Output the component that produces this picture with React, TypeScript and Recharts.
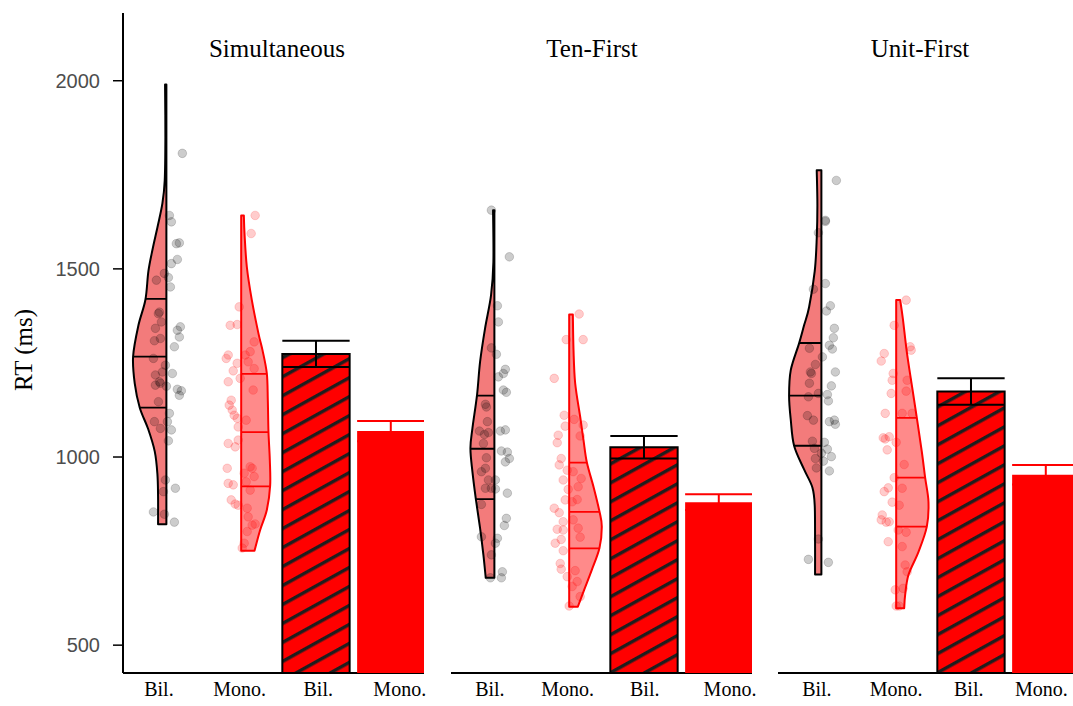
import React from 'react';
import { ComposedChart, Scatter, XAxis, YAxis } from 'recharts';

const FACETS = ['Simultaneous', 'Ten-First', 'Unit-First'];
const TICK_LABELS = ['Bil.', 'Mono.', 'Bil.', 'Mono.'];
const Y_TICKS = [500, 1000, 1500, 2000];
const Y_MIN = 426;
const Y_MAX = 2180;

// mean RT and standard error, [Bil., Mono.] per condition
const BAR_MEANS = [[1274, 1069], [1026, 880], [1174, 953]];
const BAR_SE = [[35, 27], [30, 21], [35, 26]];

// 25th / 50th / 75th percentiles, [Bil., Mono.]
const QUARTILES = [
  [[1131, 1267, 1420], [922, 1066, 1221]],
  [[888, 1022, 1163], [757, 854, 985]],
  [[1030, 1163, 1303], [815, 945, 1104]],
];

// density outlines: [rt, relative density], bottom to top
const DENS_SIM_BIL = [
  [821, 0.25], [895, 0.25], [955, 0.27], [1015, 0.35], [1075, 0.55], [1131, 0.8], [1195, 0.95],
  [1267, 1.0], [1350, 0.84], [1418, 0.63], [1494, 0.54], [1554, 0.41], [1614, 0.26], [1674, 0.12],
  [1735, 0.05], [1850, 0.03], [1990, 0.04],
];
const DENS_SIM_MONO = [
  [751, 0.4], [806, 0.57], [859, 0.77], [924, 0.87], [992, 0.86], [1067, 0.82], [1151, 0.8],
  [1222, 0.77], [1284, 0.64], [1328, 0.52], [1417, 0.32], [1505, 0.17], [1594, 0.1], [1642, 0.08],
];
const DENS_TEN_BIL = [
  [679, 0.26], [740, 0.33], [811, 0.43], [890, 0.56], [961, 0.66], [1023, 0.72], [1076, 0.66],
  [1166, 0.52], [1253, 0.43], [1342, 0.28], [1430, 0.1], [1518, 0.03], [1656, 0.04],
];
const DENS_TEN_MONO = [
  [602, 0.26], [647, 0.45], [700, 0.68], [758, 0.91], [815, 0.98], [855, 0.91], [921, 0.73],
  [986, 0.53], [1045, 0.43], [1107, 0.33], [1196, 0.18], [1284, 0.13], [1379, 0.11],
];
const DENS_UNIT_BIL = [
  [688, 0.19], [776, 0.19], [871, 0.2], [919, 0.27], [967, 0.52], [1030, 0.82], [1099, 0.92],
  [1162, 0.97], [1231, 0.92], [1302, 0.67], [1350, 0.52], [1398, 0.37], [1494, 0.2], [1580, 0.14],
  [1669, 0.12], [1762, 0.14],
];
const DENS_UNIT_MONO = [
  [598, 0.24], [634, 0.27], [687, 0.37], [748, 0.67], [815, 0.92], [881, 0.97], [945, 0.87],
  [1014, 0.77], [1104, 0.62], [1191, 0.47], [1279, 0.32], [1368, 0.2], [1417, 0.12],
];

// participant means: [rt, horizontal jitter]
const PTS_SIM_BIL = [
  [1807, 16], [1642, 3], [1625, 5], [1567, 10], [1569, 13], [1525, 11], [1514, 5], [1488, -2],
  [1470, -10], [1477, 2], [1452, 4], [1381, -8], [1385, -7], [1359, -5], [1342, -11], [1346, 14],
  [1337, 11], [1319, 13], [1315, -6], [1309, -12], [1293, 8], [1262, -13], [1244, -1], [1226, -4],
  [1222, 6], [1218, -11], [1200, -7], [1196, -6], [1191, -11], [1188, 0], [1180, 11], [1176, 15],
  [1164, 13], [1147, -8], [1116, 3], [1094, -12], [1094, 1], [1076, -6], [1072, 5], [1043, 2],
  [939, -1], [917, 9], [908, -3], [854, -13], [848, -2], [827, 8],
];
const PTS_SIM_MONO = [
  [1642, 14], [1594, 10], [1399, -2], [1350, -11], [1352, -4], [1306, 13], [1271, -13], [1262, -15],
  [1249, -4], [1271, 4], [1253, 7], [1280, 9], [1235, 13], [1229, -8], [1209, -1], [1200, -13],
  [1178, 12], [1151, -10], [1138, -12], [1125, -9], [1111, -7], [1103, -4], [1098, 5], [1080, -3],
  [1036, -13], [1027, -6], [1045, -3], [974, 9], [970, 11], [957, 3], [948, 13], [970, -14],
  [930, -13], [926, -8], [934, 5], [912, 9], [886, -10], [875, -6], [872, -3], [864, 6],
  [841, 7], [819, 11], [822, 14], [802, 6], [771, 3], [758, 1],
];
const PTS_TEN_BIL = [
  [1656, -3], [1532, 15], [1402, 3], [1359, 4], [1290, -3], [1273, 2], [1233, 11], [1222, 9],
  [1213, 4], [1178, 9], [1172, 12], [1140, -9], [1133, -8], [1094, -7], [1069, -15], [1065, -6],
  [1060, -10], [1069, 6], [1072, 11], [1036, -11], [1016, 7], [1013, 13], [996, 15], [987, 11],
  [998, -8], [961, -13], [970, -9], [939, -6], [939, 1], [917, -3], [917, -9], [915, 1],
  [904, 13], [874, -13], [837, 12], [818, 10], [788, -13], [784, 3], [771, 1], [740, -3],
  [695, 8], [679, 7], [679, -4],
];
const PTS_TEN_MONO = [
  [1380, 10], [1312, -3], [1312, 14], [1209, -15], [1111, -5], [1100, 5], [1082, -4], [1085, 14],
  [1058, -11], [1038, -12], [1056, 11], [996, -8], [979, -10], [965, -2], [961, 4], [939, -6],
  [943, 12], [921, 9], [914, -1], [886, -4], [881, 3], [887, 8], [864, -15], [852, -10],
  [833, 4], [828, -6], [811, 9], [787, 11], [808, -12], [806, -6], [771, -14], [781, -8],
  [751, -6], [717, -9], [702, -8], [682, -2], [698, 6], [669, 8], [629, 11], [604, 0], [656, 3],
];
const PTS_UNIT_BIL = [
  [1735, 15], [1629, 4], [1626, 4], [1596, -3], [1461, 4], [1446, -8], [1402, 9], [1388, 5],
  [1342, 13], [1317, 12], [1297, 8], [1287, 11], [1289, -12], [1266, 1], [1246, -6], [1226, -11],
  [1222, -10], [1226, 14], [1196, -12], [1189, 10], [1169, -3], [1166, 6], [1149, 7], [1160, -13],
  [1110, -14], [1098, -8], [1094, 8], [1098, 13], [1087, 14], [1042, -9], [1039, 3], [1023, -7],
  [1021, 6], [1010, 0], [996, -6], [1001, 10], [989, 2], [971, -5], [963, 8], [782, -3],
  [728, -13], [720, 7],
];
const PTS_UNIT_MONO = [
  [1417, 10], [1350, -2], [1293, 14], [1284, 15], [1275, -12], [1255, -15], [1222, -3], [1204, -4],
  [1204, 11], [1175, 10], [1169, -5], [1116, -11], [1116, 6], [1116, 16], [1051, -13], [1048, -11],
  [1054, -7], [1039, 0], [1019, -9], [980, 8], [945, -2], [918, -8], [908, -12], [917, 6],
  [880, -4], [872, 3], [846, -14], [833, -15], [827, -10], [828, -7], [806, 2], [800, 10],
  [775, -8], [762, 6], [713, 9], [695, 11], [647, -1], [651, 7], [604, 0], [604, 3],
];

const DENSITY = [
  [DENS_SIM_BIL, DENS_SIM_MONO],
  [DENS_TEN_BIL, DENS_TEN_MONO],
  [DENS_UNIT_BIL, DENS_UNIT_MONO],
];
const POINTS = [
  [PTS_SIM_BIL, PTS_SIM_MONO],
  [PTS_TEN_BIL, PTS_TEN_MONO],
  [PTS_UNIT_BIL, PTS_UNIT_MONO],
];

// tick label positions along each panel's x scale
const TICK_AT = [
  [0.9, 1.98, 3.03, 4.12],
  [0.94, 1.98, 3.01, 4.15],
  [0.94, 2.0, 2.97, 3.94],
];

// layout
const X_DOMAIN = [0.42, 4.444];
const PANEL_LEFT = [123, 451, 778];
const PANEL_W = 301;
const Y_AXIS_W = 123;
const VIOLIN_HALF = 0.445;
const BAR_W = 0.9;
const JITTER_STEP = 1 / 75;

const GROUP_STYLE = [
  { stroke: '#000000', violin: '#f37b7b', dot: '#000000', side: -1 },
  { stroke: '#ff0000', violin: '#ff8a8a', dot: '#ff0000', side: 1 },
];

const serif = '"Liberation Serif", "Times New Roman", serif';
const sans = '"Liberation Sans", Arial, sans-serif';

type P = { x: number; y: number };

function smoothPath(pts: P[]) {
  let d = `M${pts[0].x},${pts[0].y}`;
  for (let i = 0; i < pts.length - 1; i++) {
    const p0 = pts[i - 1] || pts[i];
    const p1 = pts[i];
    const p2 = pts[i + 1];
    const p3 = pts[i + 2] || p2;
    const c1x = p1.x + (p2.x - p0.x) / 6;
    const c1y = p1.y + (p2.y - p0.y) / 6;
    const c2x = p2.x - (p3.x - p1.x) / 6;
    const c2y = p2.y - (p3.y - p1.y) / 6;
    d += ` C${c1x},${c1y} ${c2x},${c2y} ${p2.x},${p2.y}`;
  }
  return d;
}

function densAt(profile: number[][], rt: number) {
  for (let i = 0; i < profile.length - 1; i++) {
    const [r0, d0] = profile[i];
    const [r1, d1] = profile[i + 1];
    if (rt >= r0 && rt <= r1) return d0 + ((d1 - d0) * (rt - r0)) / (r1 - r0);
  }
  return 0;
}

// outer edge bottom->top, then the flat side (top, bottom)
function violinData(profile: number[][], pos: number, side: number) {
  const outer = profile.map(([rt, d]) => ({ x: pos + side * d * VIOLIN_HALF, y: rt }));
  return [
    ...outer,
    { x: pos, y: profile[profile.length - 1][0] },
    { x: pos, y: profile[0][0] },
  ];
}

function quartileData(profile: number[][], qs: number[], pos: number, side: number) {
  const out: P[] = [];
  qs.forEach((q) => {
    out.push({ x: pos, y: q });
    out.push({ x: pos + side * densAt(profile, q) * VIOLIN_HALF, y: q });
  });
  return out;
}

function barData(mean: number, pos: number) {
  return [
    { x: pos - BAR_W / 2, y: Y_MIN },
    { x: pos - BAR_W / 2, y: mean },
    { x: pos + BAR_W / 2, y: mean },
    { x: pos + BAR_W / 2, y: Y_MIN },
  ];
}

// upper cap, stem, lower cap as segment pairs
function errorData(mean: number, se: number, pos: number) {
  const hi = mean + se;
  const lo = mean - se;
  const l = pos - BAR_W / 2;
  const r = pos + BAR_W / 2;
  return [
    { x: l, y: hi }, { x: r, y: hi },
    { x: pos, y: lo }, { x: pos, y: hi },
    { x: l, y: lo }, { x: r, y: lo },
  ];
}

const noShape = () => <g />;

const violinLine = (fill: string, stroke: string) => (props: any) => {
  const pts: P[] = props.points;
  const outer = pts.slice(0, -2);
  const [top, bottom] = pts.slice(-2);
  const d = `${smoothPath(outer)} L${top.x},${top.y} L${bottom.x},${bottom.y} Z`;
  return <path d={d} fill={fill} stroke={stroke} strokeWidth={2} strokeLinejoin="round" />;
};

const segmentLine = (stroke: string, width: number) => (props: any) => {
  const pts: P[] = props.points;
  let d = '';
  for (let i = 0; i + 1 < pts.length; i += 2) {
    d += `M${pts[i].x},${pts[i].y} L${pts[i + 1].x},${pts[i + 1].y} `;
  }
  return <path d={d} fill="none" stroke={stroke} strokeWidth={width} />;
};

const polygonLine = (fill: string, stroke: string, strokeWidth: number) => (props: any) => {
  const pts: P[] = props.points;
  const d = pts.map((p, i) => `${i ? 'L' : 'M'}${p.x},${p.y}`).join(' ') + ' Z';
  return <path d={d} fill={fill} stroke={stroke} strokeWidth={strokeWidth} />;
};

const dotShape = (color: string) => (props: any) => (
  <circle
    cx={props.cx}
    cy={props.cy}
    r={4.3}
    fill={color}
    fillOpacity={0.2}
    stroke={color}
    strokeOpacity={0.16}
    strokeWidth={1}
  />
);

function RtLabel(props: any) {
  const vb = props.viewBox;
  const x = vb.x + 23;
  const y = vb.y + vb.height / 2 + 7;
  return (
    <text
      x={x}
      y={y}
      transform={`rotate(-90, ${x}, ${y})`}
      textAnchor="middle"
      dominantBaseline="central"
      fontFamily={serif}
      fontSize={25}
      fill="#000"
    >
      RT (ms)
    </text>
  );
}

function Facet({ f }: { f: number }) {
  const first = f === 0;
  const chartLeft = first ? 0 : PANEL_LEFT[f];
  const chartW = (first ? Y_AXIS_W : 0) + PANEL_W + 20;

  return (
    <div style={{ position: 'absolute', left: chartLeft, top: 0 }}>
      <ComposedChart width={chartW} height={706} margin={{ top: 13, right: 20, bottom: 0, left: 0 }}>
        <XAxis
          type="number"
          dataKey="x"
          domain={X_DOMAIN}
          allowDataOverflow
          ticks={TICK_AT[f]}
          interval={0}
          tickFormatter={(_v: number, i: number) => TICK_LABELS[i]}
          tickLine={false}
          tickMargin={3}
          height={33}
          axisLine={{ stroke: '#000', strokeWidth: 2 }}
          tick={{ fill: '#000', fontSize: 20, fontFamily: serif }}
        />
        <YAxis
          type="number"
          domain={[Y_MIN, Y_MAX]}
          allowDataOverflow
          ticks={Y_TICKS}
          hide={!first}
          width={Y_AXIS_W}
          tickSize={10}
          tickMargin={13}
          axisLine={{ stroke: '#000', strokeWidth: 2 }}
          tickLine={{ stroke: '#000', strokeWidth: 1.5 }}
          tick={{ fill: '#4d4d4d', fontSize: 20, fontFamily: sans }}
          label={first ? <RtLabel /> : undefined}
        />

        {/* half violins, drawn from the density outlines */}
        {[0, 1].map((g) => (
          <Scatter
            key={`violin-${g}`}
            data={violinData(DENSITY[f][g], g + 1, GROUP_STYLE[g].side)}
            dataKey="y"
            shape={noShape}
            line={violinLine(GROUP_STYLE[g].violin, GROUP_STYLE[g].stroke)}
            isAnimationActive={false}
          />
        ))}
        {[0, 1].map((g) => (
          <Scatter
            key={`quart-${g}`}
            data={quartileData(DENSITY[f][g], QUARTILES[f][g], g + 1, GROUP_STYLE[g].side)}
            dataKey="y"
            shape={noShape}
            line={segmentLine(GROUP_STYLE[g].stroke, 1.8)}
            isAnimationActive={false}
          />
        ))}

        {/* jittered participant points */}
        {[0, 1].map((g) => (
          <Scatter
            key={`pts-${g}`}
            data={POINTS[f][g].map(([rt, j]) => ({ x: g + 1 + j * JITTER_STEP, y: rt }))}
            dataKey="y"
            shape={dotShape(GROUP_STYLE[g].dot)}
            isAnimationActive={false}
          />
        ))}

        {/* mean bars */}
        <Scatter
          data={barData(BAR_MEANS[f][0], 3)}
          dataKey="y"
          shape={noShape}
          line={polygonLine('url(#bil-hatch)', '#000', 2)}
          isAnimationActive={false}
        />
        <Scatter
          data={barData(BAR_MEANS[f][1], 4)}
          dataKey="y"
          shape={noShape}
          line={polygonLine('#ff0000', 'none', 0)}
          isAnimationActive={false}
        />

        {/* standard error whiskers */}
        {[0, 1].map((g) => (
          <Scatter
            key={`err-${g}`}
            data={errorData(BAR_MEANS[f][g], BAR_SE[f][g], g + 3)}
            dataKey="y"
            shape={noShape}
            line={segmentLine(GROUP_STYLE[g].stroke, 2)}
            isAnimationActive={false}
          />
        ))}
      </ComposedChart>
    </div>
  );
}

const TITLE_X = [277, 592, 920];

export default function App() {
  return (
    <div
      style={{
        position: 'absolute',
        left: 0,
        top: 0,
        width: 1073,
        height: 706,
        overflow: 'hidden',
        background: '#fff',
      }}
    >
      <svg width={0} height={0} style={{ position: 'absolute' }}>
        <defs>
          <pattern
            id="bil-hatch"
            patternUnits="userSpaceOnUse"
            width={16.6}
            height={16.6}
            patternTransform="rotate(-29)"
          >
            <rect width={16.6} height={16.6} fill="#ff0000" />
            <rect y={0} width={16.6} height={3.4} fill="#1e1e1e" />
          </pattern>
        </defs>
      </svg>

      {FACETS.map((_, f) => (
        <Facet key={f} f={f} />
      ))}

      <svg
        width={1073}
        height={706}
        style={{ position: 'absolute', left: 0, top: 0, pointerEvents: 'none' }}
      >
        {FACETS.map((name, f) => (
          <text key={name} x={TITLE_X[f]} y={57} textAnchor="middle" fontFamily={serif} fontSize={25} fill="#000">
            {name}
          </text>
        ))}
      </svg>
    </div>
  );
}
